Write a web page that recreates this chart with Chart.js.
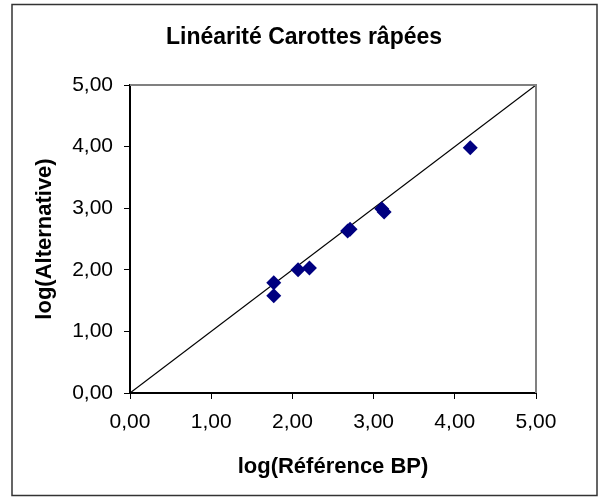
<!DOCTYPE html>
<html>
<head>
<meta charset="utf-8">
<script src="https://cdn.jsdelivr.net/npm/chart.js@4"></script>
<style>
  body { margin: 0; background: #fff; }
</style>
</head>
<body>
<canvas id="linearite" width="608" height="497"></canvas>
<script>
// Linéarité Carottes râpées
var refBP = [1.77, 1.77, 2.07, 2.21, 2.68, 2.71, 3.10, 3.13, 4.19];
var alternative = [1.79, 1.58, 2.00, 2.03, 2.63, 2.66, 2.99, 2.94, 3.98];
var lineX = [0, 5];
var lineY = [0, 5];
var axisTicks = [0, 1, 2, 3, 4, 5];

var points = refBP.map((x, i) => ({ x: x, y: alternative[i] }));
var identity = lineX.map((x, i) => ({ x: x, y: lineY[i] }));

Chart.defaults.font.family = "'Liberation Sans', Arial, sans-serif";
Chart.defaults.color = '#000';

function fmt(v) {
  return v.toFixed(2).replace('.', ',');
}

// cadre autour du graphique + bordure grise haut/droite de la zone de tracé
var frame = {
  id: 'frame',
  afterDraw(chart) {
    var ctx = chart.ctx;
    var a = chart.chartArea;
    ctx.save();
    ctx.strokeStyle = '#808080';
    ctx.lineWidth = 2;
    ctx.beginPath();
    ctx.moveTo(a.left, a.top);
    ctx.lineTo(a.right, a.top);
    ctx.lineTo(a.right, a.bottom);
    ctx.stroke();
    ctx.strokeStyle = '#333';
    ctx.lineWidth = 1.5;
    ctx.strokeRect(12, 4.5, 585, 491);
    ctx.restore();
  }
};

new Chart(document.getElementById('linearite'), {
  type: 'scatter',
  data: {
    datasets: [
      {
        label: 'Carottes râpées',
        data: points,
        pointStyle: 'rectRot',
        pointRadius: 7.5,
        backgroundColor: '#000080',
        borderColor: '#000080',
        borderWidth: 0
      },
      {
        label: 'y = x',
        data: identity,
        showLine: true,
        pointRadius: 0,
        borderColor: '#000',
        borderWidth: 1.2,
        fill: false
      }
    ]
  },
  options: {
    responsive: false,
    animation: false,
    devicePixelRatio: 1,
    layout: { padding: { left: 14, right: 14, top: 6, bottom: 4 } },
    plugins: {
      legend: { display: false },
      tooltip: { enabled: false },
      title: {
        display: true,
        text: 'Linéarité Carottes râpées',
        font: { size: 23, weight: 'bold' },
        padding: { top: 18, bottom: 33.4 }
      }
    },
    scales: {
      x: {
        type: 'linear',
        min: 0,
        max: 5,
        afterBuildTicks: s => { s.ticks = axisTicks.map(v => ({ value: v })); },
        afterFit: s => { s.height = 100; },
        ticks: { callback: v => fmt(v), font: { size: 21 }, padding: 11, maxRotation: 0 },
        grid: { drawOnChartArea: false, tickLength: 6, color: '#000' },
        border: { color: '#000', width: 2 },
        title: {
          display: true,
          text: 'log(Référence BP)',
          font: { size: 22, weight: 'bold' },
          padding: { top: 0, bottom: 13 }
        }
      },
      y: {
        type: 'linear',
        min: 0,
        max: 5,
        afterBuildTicks: s => { s.ticks = axisTicks.map(v => ({ value: v })); },
        afterFit: s => { s.width = 116; },
        ticks: { callback: v => fmt(v), font: { size: 21 }, padding: 11 },
        grid: { drawOnChartArea: false, tickLength: 6, color: '#000' },
        border: { color: '#000', width: 2 },
        title: {
          display: true,
          text: 'log(Alternative)',
          font: { size: 22, weight: 'bold' },
          padding: { top: 18, bottom: 0 }
        }
      },
      // axe vide à droite, seulement pour garder la marge
      yRight: {
        type: 'linear',
        position: 'right',
        min: 0,
        max: 5,
        afterFit: s => { s.width = 58; },
        ticks: { display: false },
        grid: { display: false },
        border: { display: false }
      }
    }
  },
  plugins: [frame]
});
</script>
</body>
</html>
